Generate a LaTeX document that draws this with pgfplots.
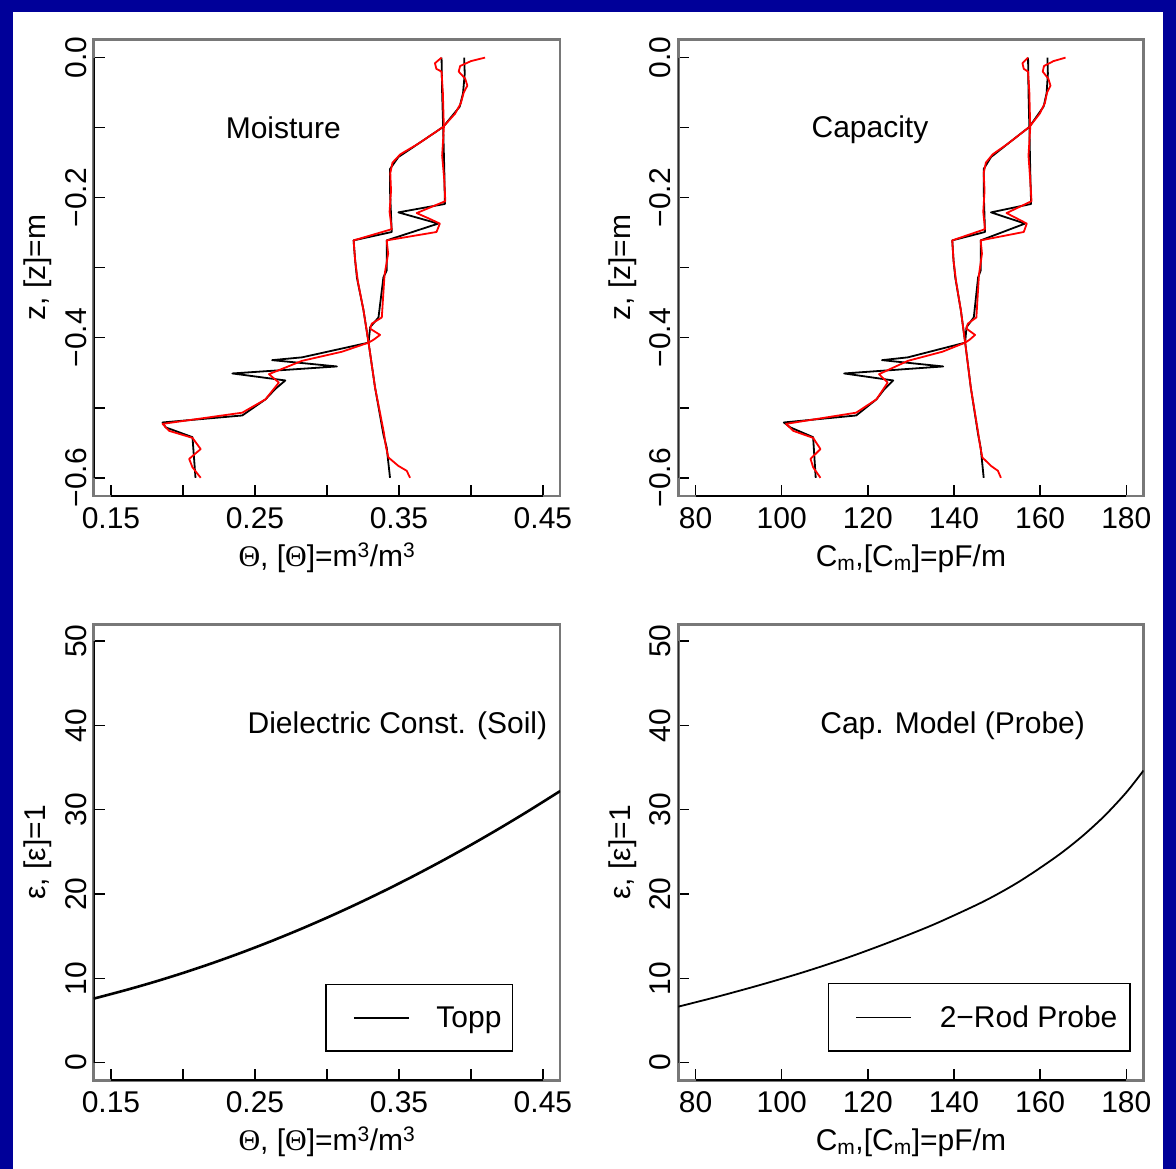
\documentclass[border=0pt]{standalone}
\usepackage{fontspec}
\setmainfont{Liberation Sans}
\newfontfamily\serf{Liberation Serif}
\usepackage{pgfplots}
\pgfplotsset{compat=1.18}
\definecolor{navy}{RGB}{0,0,153}
\definecolor{boxgray}{RGB}{120,120,120}
\newcommand\fsz{\fontsize{30}{36}\selectfont}
\pgfplotsset{
  rbase/.style={
    scale only axis,
    anchor=south west,
    axis line style={draw=boxgray, line width=2.5pt},
    tick align=inside,
    major tick length=11pt,
    xtick pos=bottom, ytick pos=left,
    tick style={black, line width=1.5pt},
    font=\fsz,
    ticklabel style={font=\fsz},
    yticklabel style={rotate=90, anchor=south, inner sep=0pt},
    xticklabel style={anchor=north, inner sep=0pt},
    xticklabel shift=11pt,
    yticklabel shift=7pt,
    xlabel style={at={(axis description cs:0.5,-0.155)}, anchor=base},
    ylabel style={at={(axis description cs:-0.12,0.5)}, anchor=center, rotate=0},
    legend style={draw=black, line width=1.2pt, fill=white, inner xsep=0pt, inner ysep=22pt, nodes={inner sep=0pt}, font=\fsz, anchor=south west},
  },
  thetaaxis/.style={xmin=0.138, xmax=0.462, width=466.5pt,
    xtick={0.15,0.2,0.25,0.3,0.35,0.4,0.45}, xticklabels={0.15,,0.25,,0.35,,0.45},
    xlabel={{\serf Θ}, [{\serf Θ}]=m\textsuperscript{3}/m\textsuperscript{3}}},
  capaxis/.style={xmin=76, xmax=184, width=465.2pt,
    xtick={80,100,120,140,160,180}, xticklabels={80,100,120,140,160,180},
    xlabel={C\textsubscript{m},[C\textsubscript{m}]=pF/m}},
  zaxis/.style={ymin=-0.626, ymax=0.026, height=456.6pt,
    ytick={-0.6,-0.5,-0.4,-0.3,-0.2,-0.1,0}, yticklabels={−0.6,,−0.4,,−0.2,,0.0},
    ylabel={z, [z]=m}},
  epsaxis/.style={ymin=-2.1, ymax=52, height=456pt,
    ytick={0,10,20,30,40,50}, yticklabels={0,10,20,30,40,50},
    ylabel={ε, [ε]=1}},
  blk/.style={black, line width=1.8pt, line join=round},
  rd/.style={red, line width=1.8pt, line join=round},
}
\begin{document}
\begin{tikzpicture}
\useasboundingbox (0,0) rectangle (1176pt,-1169pt);
\fill[navy] (0,0) rectangle (1176pt,-1169pt);
\fill[white] (13pt,-12pt) rectangle (1163pt,-1169pt);

% ---------------- top left: moisture ----------------
\begin{axis}[rbase, thetaaxis, zaxis, at={(93.7pt,-496pt)}]
\addplot[blk] coordinates {
(0.3796,0) (0.3800,-0.050) (0.3807,-0.099) (0.3815,-0.160) (0.3819,-0.209)
(0.3496,-0.221) (0.3773,-0.237) (0.3415,-0.261) (0.3415,-0.304) (0.3392,-0.314)
(0.3358,-0.371) (0.3300,-0.385) (0.3289,-0.407) (0.2827,-0.428) (0.2619,-0.432)
(0.3069,-0.441) (0.2343,-0.451) (0.2711,-0.461) (0.2642,-0.473) (0.2573,-0.488)
(0.2412,-0.511) (0.1858,-0.521) (0.1880,-0.528) (0.2066,-0.542) (0.2087,-0.600)};
\addplot[blk] coordinates {
(0.3953,0) (0.3957,-0.023) (0.3945,-0.051) (0.3922,-0.070) (0.3807,-0.099)
(0.3634,-0.123) (0.3496,-0.142) (0.3438,-0.159) (0.3438,-0.190) (0.3450,-0.249)
(0.3185,-0.261) (0.3196,-0.290) (0.3208,-0.314) (0.3254,-0.361) (0.3289,-0.407)
(0.3334,-0.471) (0.3392,-0.538) (0.3415,-0.557) (0.3438,-0.600)};
\addplot[rd] coordinates {
(0.3796,0) (0.3750,-0.008) (0.3760,-0.016) (0.3796,-0.020) (0.3805,-0.050)
(0.3812,-0.100) (0.3800,-0.140) (0.3815,-0.175) (0.3822,-0.205) (0.3623,-0.222)
(0.3700,-0.229) (0.3784,-0.237) (0.3761,-0.249) (0.3415,-0.261) (0.3425,-0.280)
(0.3400,-0.310) (0.3381,-0.371) (0.3311,-0.380) (0.3300,-0.387) (0.3369,-0.396)
(0.3323,-0.403) (0.3289,-0.407) (0.3104,-0.420) (0.2827,-0.433) (0.2597,-0.452)
(0.2666,-0.464) (0.2573,-0.488) (0.2412,-0.507) (0.1858,-0.523) (0.1904,-0.533)
(0.2066,-0.543) (0.2123,-0.559) (0.2043,-0.573) (0.2066,-0.585) (0.2123,-0.600)};
\addplot[rd] coordinates {
(0.4098,0) (0.4000,-0.005) (0.3925,-0.012) (0.3915,-0.020) (0.3960,-0.030)
(0.3975,-0.040) (0.3950,-0.050) (0.3930,-0.065) (0.3890,-0.080) (0.3807,-0.099)
(0.3634,-0.123) (0.3510,-0.138) (0.3455,-0.150) (0.3440,-0.165) (0.3445,-0.190)
(0.3435,-0.220) (0.3450,-0.245) (0.3185,-0.261) (0.3196,-0.290) (0.3215,-0.320)
(0.3254,-0.361) (0.3289,-0.407) (0.3334,-0.471) (0.3395,-0.535) (0.3410,-0.556)
(0.3427,-0.571) (0.3496,-0.583) (0.3554,-0.590) (0.3577,-0.600)};
\draw[black, line width=2pt] (axis cs:0.15,-0.626) -- (axis cs:0.45,-0.626);
\draw[black, line width=2pt] (axis cs:0.138,0) -- (axis cs:0.138,-0.6);
\node[anchor=base] at (axis description cs:0.4065,0.783) {Moisture};
\end{axis}

% ---------------- top right: capacity ----------------
\begin{axis}[rbase, capaxis, zaxis, at={(678.3pt,-496pt)}]
\addplot[blk] coordinates {
(157.2,0) (157.3,-0.050) (157.5,-0.099) (157.7,-0.160) (157.9,-0.209)
(148.6,-0.221) (156.5,-0.237) (146.2,-0.261) (146.2,-0.304) (145.6,-0.314)
(144.6,-0.371) (142.9,-0.385) (142.6,-0.407) (129.3,-0.428) (123.3,-0.432)
(137.5,-0.441) (114.5,-0.451) (125.9,-0.461) (123.9,-0.473) (122.0,-0.488)
(117.3,-0.511) (100.5,-0.521) (102.0,-0.528) (107.3,-0.542) (107.9,-0.600)};
\addplot[blk] coordinates {
(161.7,0) (161.8,-0.023) (161.5,-0.051) (160.8,-0.070) (157.5,-0.099)
(152.5,-0.123) (148.6,-0.142) (146.9,-0.159) (146.9,-0.190) (147.2,-0.249)
(139.6,-0.261) (139.9,-0.290) (140.3,-0.314) (141.6,-0.361) (142.6,-0.407)
(143.9,-0.471) (145.6,-0.538) (146.2,-0.557) (146.9,-0.600)};
\addplot[rd] coordinates {
(157.2,0) (155.9,-0.008) (156.2,-0.016) (157.2,-0.020) (157.5,-0.050)
(157.7,-0.100) (157.3,-0.140) (157.7,-0.175) (158.0,-0.205) (152.2,-0.222)
(154.4,-0.229) (156.9,-0.237) (156.2,-0.249) (146.2,-0.261) (146.5,-0.280)
(145.8,-0.310) (145.2,-0.371) (143.2,-0.380) (142.9,-0.387) (144.9,-0.396)
(143.6,-0.403) (142.6,-0.407) (137.3,-0.420) (129.3,-0.433) (122.6,-0.452)
(124.6,-0.464) (122.0,-0.488) (117.3,-0.507) (101.0,-0.523) (102.7,-0.533)
(107.3,-0.543) (109.0,-0.559) (106.7,-0.573) (107.3,-0.585) (109.0,-0.600)};
\addplot[rd] coordinates {
(165.9,0) (163.1,-0.005) (160.9,-0.012) (160.6,-0.020) (161.9,-0.030)
(162.4,-0.040) (161.6,-0.050) (161.1,-0.065) (159.9,-0.080) (157.5,-0.099)
(152.5,-0.123) (149.0,-0.138) (147.4,-0.150) (146.9,-0.165) (147.1,-0.190)
(146.8,-0.220) (147.2,-0.245) (139.6,-0.261) (139.9,-0.290) (140.5,-0.320)
(141.6,-0.361) (142.6,-0.407) (143.9,-0.471) (145.6,-0.535) (146.1,-0.556)
(146.6,-0.571) (148.6,-0.583) (150.2,-0.590) (150.9,-0.600)};
\draw[black, line width=2pt] (axis cs:80,-0.626) -- (axis cs:180,-0.626);
\draw[black, line width=2pt] (axis cs:76,0) -- (axis cs:76,-0.6);
\node[anchor=base] at (axis description cs:0.412,0.786) {Capacity};
\end{axis}

% ---------------- bottom left: Topp ----------------
\begin{axis}[rbase, thetaaxis, epsaxis, at={(93.7pt,-1080.3pt)},
  legend style={at={(0.4965,0.063)}},
  legend image code/.code={\draw[black, line width=1.5pt] (28pt,0pt) -- (83.5pt,0pt); \path[draw=none] (0pt,0pt) -- (110.5pt,0pt);}]
\addplot[black, line width=2.6pt, smooth] coordinates {
(0.138,7.59) (0.16,8.59) (0.18,9.57) (0.20,10.633) (0.22,11.779) (0.24,13.008)
(0.26,14.32) (0.28,15.715) (0.30,17.193) (0.32,18.754) (0.34,20.398) (0.36,22.125)
(0.38,23.935) (0.40,25.828) (0.42,27.804) (0.44,29.863) (0.462,32.22)};
\addlegendentry{Topp\hspace*{11pt}}
\draw[black, line width=2pt] (axis cs:0.15,-2.1) -- (axis cs:0.45,-2.1);
\draw[black, line width=2pt] (axis cs:0.138,0) -- (axis cs:0.138,50);
\node[anchor=base] at (axis description cs:0.651,0.76) {Dielectric Const. (Soil)};
\end{axis}

% ---------------- bottom right: probe ----------------
\begin{axis}[rbase, capaxis, epsaxis, at={(678.3pt,-1080.3pt)},
  legend style={at={(0.3222,0.063)}},
  legend image code/.code={\draw[black, line width=1.3pt] (27.4pt,0pt) -- (82.4pt,0pt); \path[draw=none] (0pt,0pt) -- (111pt,0pt);}]
\addplot[black, line width=1.8pt, smooth] coordinates {
(76,6.64) (85,7.81) (95,9.21) (105,10.72) (115,12.40) (125,14.28) (135,16.32)
(145,18.65) (150,19.96) (155,21.43) (160,23.10) (165,24.90) (170,26.95)
(175,29.30) (180,32.05) (184,34.65)};
\addlegendentry{2−Rod Probe\hspace*{12.6pt}}
\draw[black, line width=2pt] (axis cs:80,-2.1) -- (axis cs:180,-2.1);
\draw[black, line width=2pt] (axis cs:76,0) -- (axis cs:76,50);
\node[anchor=base] at (axis description cs:0.5897,0.76) {Cap. Model (Probe)};
\end{axis}
\end{tikzpicture}
\end{document}
